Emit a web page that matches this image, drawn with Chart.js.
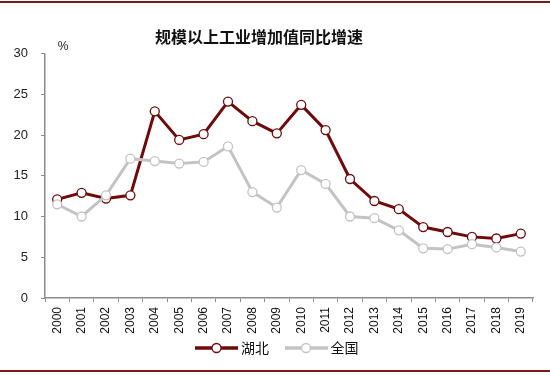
<!DOCTYPE html>
<html>
<head>
<meta charset="utf-8">
<script src="https://cdn.jsdelivr.net/npm/chart.js@4"></script>
<style>
  html, body { margin: 0; padding: 0; background: #fff; }
  #wrap { position: relative; width: 550px; height: 375px; }
</style>
</head>
<body>
<div id="wrap"><canvas id="c" width="550" height="375"></canvas></div>
<script>
const chartTitle = '规模以上工业增加值同比增速';
const unitLabel = '%';
const years = ['2000','2001','2002','2003','2004','2005','2006','2007','2008','2009',
               '2010','2011','2012','2013','2014','2015','2016','2017','2018','2019'];
const hubeiName = '湖北';
const hubei = [12.1, 12.9, 12.2, 12.6, 22.9, 19.4, 20.1, 24.1, 21.7, 20.2,
               23.7, 20.6, 14.6, 11.9, 10.9, 8.7, 8.1, 7.5, 7.3, 7.9];
const nationName = '全国';
const nation = [11.5, 10.0, 12.6, 17.1, 16.8, 16.5, 16.7, 18.6, 13.0, 11.1,
                15.7, 14.0, 10.0, 9.8, 8.3, 6.1, 6.0, 6.6, 6.2, 5.7];
const yTicks = [0, 5, 10, 15, 20, 25, 30];

const RED = '#6e0a0a';
const GRAY = '#c3c3c3';
const AXIS = '#8c8c8c';
const CJK = '"Noto Sans CJK SC", sans-serif';
const LAT = '"Liberation Sans", Arial, sans-serif';
const LEG_PAD = 19.5;

function legendIcon(color) {
  const w = 43, h = 12;
  const c = document.createElement('canvas');
  c.width = w; c.height = h;
  const g = c.getContext('2d');
  g.strokeStyle = color; g.lineWidth = 3.5;
  g.beginPath(); g.moveTo(0, h / 2); g.lineTo(w, h / 2); g.stroke();
  g.beginPath(); g.arc(w / 2, h / 2, 4.5, 0, Math.PI * 2);
  g.fillStyle = '#fff'; g.fill();
  g.lineWidth = 1.3; g.stroke();
  return c;
}
const icons = [legendIcon(RED), legendIcon(GRAY)];

const decor = {
  id: 'decor',
  afterLayout(chart) {
    const lg = chart.legend;
    if (lg) {
      const h = lg.height;
      lg.left = 4; lg.right = 553.5; lg.width = 549.5;
      lg.top = 348 - LEG_PAD - 7; lg.bottom = lg.top + h;
    }
  },
  beforeDraw(chart) {
    const ctx = chart.ctx;
    ctx.save();
    ctx.fillStyle = '#fff';
    ctx.fillRect(0, 0, 550, 375);
    ctx.fillStyle = '#7a1a1a';
    ctx.fillRect(0, 1, 550, 2);
    ctx.fillRect(0, 370, 550, 2);
    ctx.restore();
  },
  afterDraw(chart) {
    const ctx = chart.ctx;
    ctx.save();
    ctx.fillStyle = '#111';
    ctx.font = 'bold 16px ' + CJK;
    ctx.textAlign = 'center';
    ctx.textBaseline = 'middle';
    ctx.fillText(chartTitle, 259, 37);
    ctx.font = '12px ' + LAT;
    ctx.fillStyle = '#222';
    ctx.fillText(unitLabel, 63, 47);
    ctx.restore();
  }
};

new Chart(document.getElementById('c'), {
  type: 'line',
  data: {
    labels: years,
    datasets: [
      {
        label: hubeiName, data: hubei, order: 1,
        borderColor: RED, borderWidth: 3,
        pointRadius: 4.5, pointBorderWidth: 1.3,
        pointBackgroundColor: '#fff', pointBorderColor: RED,
        tension: 0
      },
      {
        label: nationName, data: nation, order: 0,
        borderColor: GRAY, borderWidth: 3,
        pointRadius: 4.5, pointBorderWidth: 1.3,
        pointBackgroundColor: '#fff', pointBorderColor: GRAY,
        tension: 0
      }
    ]
  },
  options: {
    responsive: false,
    animation: false,
    devicePixelRatio: 1,
    layout: { padding: { top: 53.5, right: 17, bottom: -2.5, left: 0 } },
    plugins: {
      title: { display: false },
      tooltip: { enabled: false },
      legend: {
        position: 'bottom',
        align: 'center',
        labels: {
          usePointStyle: true,
          pointStyleWidth: 35,
          padding: LEG_PAD,
          color: '#111',
          font: { family: CJK, size: 14 },
          generateLabels(chart) {
            const items = Chart.defaults.plugins.legend.labels.generateLabels(chart);
            items.sort((a, b) => a.datasetIndex - b.datasetIndex);
            return items.map(it => Object.assign(it, { pointStyle: icons[it.datasetIndex] }));
          }
        }
      }
    },
    scales: {
      x: {
        offset: true,
        grid: {
          offset: true, display: true, drawOnChartArea: false,
          drawTicks: true, tickLength: 4, color: AXIS, lineWidth: 1
        },
        border: { display: true, color: AXIS, width: 1.5 },
        ticks: {
          autoSkip: false, minRotation: 90, maxRotation: 90, padding: 5,
          color: '#111', font: { family: LAT, size: 12 }
        },
        afterFit(s) { s.height = 36; }
      },
      y: {
        min: 0, max: 30,
        afterBuildTicks(s) { s.ticks = yTicks.map(v => ({ value: v })); },
        grid: {
          display: true, drawOnChartArea: false, drawTicks: true,
          tickLength: 4, color: AXIS, lineWidth: 1
        },
        border: { display: true, color: AXIS, width: 1.5 },
        ticks: {
          padding: 13, color: '#222', font: { family: LAT, size: 13 }
        },
        afterFit(s) { s.width = 45; }
      }
    }
  },
  plugins: [decor]
});
</script>
</body>
</html>
